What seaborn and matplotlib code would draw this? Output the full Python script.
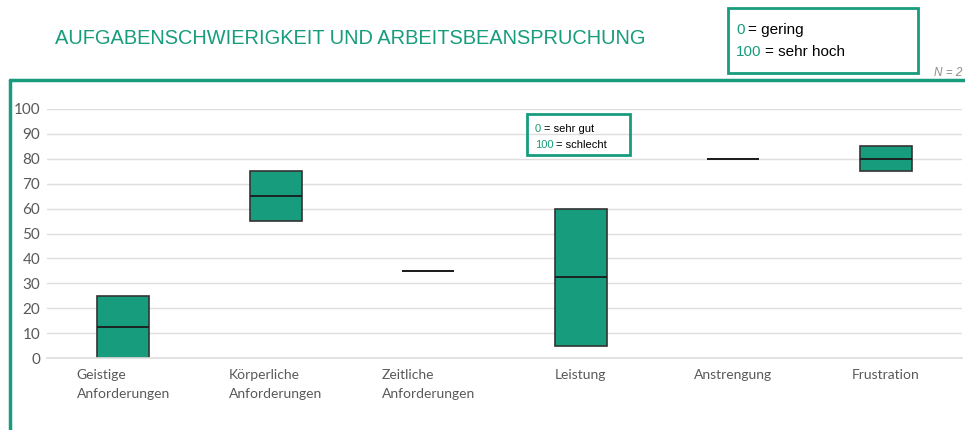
import matplotlib
matplotlib.use("Agg")
import matplotlib.pyplot as plt
import numpy as np
import seaborn as sns
from matplotlib import font_manager
from matplotlib.lines import Line2D
from matplotlib.patches import Rectangle

# two answers (N = 2) per NASA-TLX dimension
categories = ["Geistige\nAnforderungen", "Körperliche\nAnforderungen", "Zeitliche\nAnforderungen",
              "Leistung", "Anstrengung", "Frustration"]
answer_1 = [0, 55, 35, 5, 80, 75]
answer_2 = [25, 75, 35, 60, 80, 85]
y_ticks = [0, 10, 20, 30, 40, 50, 60, 70, 80, 90, 100]

GREEN = "#179c7d"
GREY = "#595959"

sns.set_theme(style="whitegrid")
installed = {f.name for f in font_manager.fontManager.ttflist}
tick_font = "Lato" if "Lato" in installed else "DejaVu Sans"
plt.rcParams["font.family"] = ["Liberation Sans", "DejaVu Sans"]

fig = plt.figure(figsize=(9.65, 4.30), dpi=100)
ax = fig.add_axes([47 / 965, 1 - 358 / 430, 915 / 965, 249 / 430])

# box = range of the two answers, line = median
stats = []
for name, a, b in zip(categories, answer_1, answer_2):
    vals = np.array([a, b])
    lo, hi, med = vals.min(), vals.max(), np.median(vals)
    stats.append(dict(label=name, med=med, q1=lo, q3=hi, whislo=lo, whishi=hi, fliers=[]))

ax.bxp(stats, positions=range(len(categories)), widths=0.34, patch_artist=True,
       showcaps=False, showfliers=False,
       boxprops=dict(facecolor=GREEN, edgecolor="#333333", linewidth=1.2),
       medianprops=dict(color="#1a1a1a", linewidth=1.3),
       whiskerprops=dict(linewidth=0))

ax.set_xlim(-0.5, len(categories) - 0.5)
ax.set_ylim(0, 100)
ax.set_yticks(y_ticks)
ax.grid(axis="x", visible=False)
ax.grid(axis="y", color="#dedede", linewidth=1)
for side in ["left", "right", "top"]:
    ax.spines[side].set_visible(False)
ax.spines["bottom"].set_color("#dedede")
ax.tick_params(axis="both", length=0, colors=GREY)
ax.tick_params(axis="y", labelsize=11, pad=5)
ax.tick_params(axis="x", labelsize=10, pad=8)
for lab in ax.get_yticklabels():
    lab.set_family(tick_font)
for lab in ax.get_xticklabels():
    lab.set_family(tick_font)
    lab.set_multialignment("left")
    lab.set_linespacing(1.65)

# frame around the chart
fig.add_artist(Line2D([10 / 965, 10 / 965], [0, 1 - 80 / 430], color=GREEN, lw=2.5))
fig.add_artist(Line2D([10 / 965, 1], [1 - 80 / 430, 1 - 80 / 430], color=GREEN, lw=2.5))

fig.text(55 / 965, 1 - 38 / 430, "AUFGABENSCHWIERIGKEIT UND ARBEITSBEANSPRUCHUNG",
         color=GREEN, fontsize=14.4, va="center", ha="left")
fig.text(962 / 965, 1 - 73 / 430, "N = 2", color="#8c8c8c", fontsize=8.5, style="italic",
         ha="right", va="center")


def legend_box(x0, y0, x1, y1, rows, size, lw):
    fig.add_artist(Rectangle((x0 / 965, 1 - y1 / 430), (x1 - x0) / 965, (y1 - y0) / 430,
                             transform=fig.transFigure, fill=False, edgecolor=GREEN, lw=lw))
    for (num, rest, ypix) in rows:
        t = fig.text((x0 + 8) / 965, 1 - ypix / 430, num, color=GREEN, fontsize=size,
                     ha="left", va="bottom")
        ax.annotate(rest, xy=(1, 0), xycoords=t, xytext=(size * 0.25, 0),
                    textcoords="offset points", ha="left", va="bottom",
                    fontsize=size, color="black", annotation_clip=False)


legend_box(728, 8, 918, 73, [("0", "= gering", 37), ("100", "= sehr hoch", 59)], 11, 2)
legend_box(527, 114, 630, 155, [("0", "= sehr gut", 134), ("100", "= schlecht", 150)], 8, 2)

fig.savefig("out.png", dpi=100)
